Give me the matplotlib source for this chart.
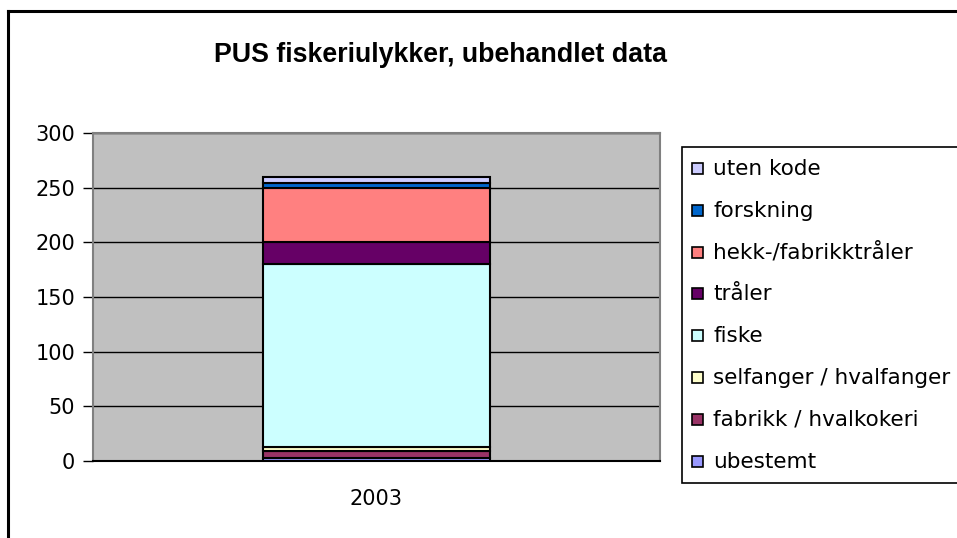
import matplotlib
matplotlib.use("Agg")
from matplotlib import pyplot as plt
from matplotlib.patches import Rectangle
from matplotlib.lines import Line2D

plt.rcParams['font.family'] = ['DejaVu Sans']

categories = ["2003"]
series_names = ["ubestemt", "fabrikk / hvalkokeri", "selfanger / hvalfanger", "fiske",
                "tråler", "hekk-/fabrikktråler", "forskning", "uten kode"]
series_values = [3, 6, 4, 167, 20, 50, 4, 6]
series_colors = ["#9999FF", "#993366", "#FFFFCC", "#CCFFFF",
                 "#660066", "#FF8080", "#0066CC", "#CCCCFF"]
yticks = [0, 50, 100, 150, 200, 250, 300]

W, H = 957, 538
fig = plt.figure(figsize=(W / 100, H / 100), dpi=100)

# outer chart border (right and bottom run off the picture)
fig.add_artist(Line2D([8 / W, 8 / W], [0, 1 - 11 / H], color='black', lw=2.2))
fig.add_artist(Line2D([8 / W, 1], [1 - 11 / H, 1 - 11 / H], color='black', lw=2.2))

ax = fig.add_axes([93 / W, (H - 461) / H, 567 / W, 328 / H])
ax.set_facecolor('#C0C0C0')

bottom = 0
for name, val, col in zip(series_names, series_values, series_colors):
    ax.bar(0, val, width=0.4, bottom=bottom, color=col, edgecolor='black',
           linewidth=1.5, zorder=3, label=name)
    bottom += val

ax.set_xlim(-0.5, 0.5)
ax.set_ylim(0, 300)
ax.set_yticks(yticks)
ax.set_xticks([0])
ax.set_xticklabels(categories)
ax.yaxis.grid(True, color='black', linewidth=1.0, zorder=1)
ax.set_axisbelow(True)
ax.tick_params(axis='y', direction='out', length=7, width=1, labelsize=15, pad=6)
ax.tick_params(axis='x', length=0, labelsize=15, pad=20)
for s in ['top', 'right', 'left']:
    ax.spines[s].set_color('#808080')
    ax.spines[s].set_linewidth(1.5)
ax.spines['bottom'].set_color('black')
ax.spines['bottom'].set_linewidth(1.5)

fig.text(441 / W, 1 - 55 / H, "PUS fiskeriulykker, ubehandlet data", ha='center', va='center',
         fontsize=19.3, fontweight='bold', family='Liberation Sans')

# legend box, cut off on the right like the reference
fig.add_artist(Rectangle((682 / W, 1 - 483 / H), 400 / W, (483 - 147) / H,
                         transform=fig.transFigure, facecolor='white', edgecolor='black',
                         lw=1.2, clip_on=False))
y0, step = 169, 41.8
for i, (name, col) in enumerate(zip(series_names[::-1], series_colors[::-1])):
    yc = y0 + i * step
    fig.add_artist(Rectangle((692 / W, 1 - (yc + 5) / H), 11 / W, 11 / H,
                             transform=fig.transFigure, facecolor=col,
                             edgecolor='black', lw=1.2))
    fig.text(713 / W, 1 - yc / H, name, ha='left', va='center', fontsize=15.5)

fig.savefig("out.png", dpi=100)
